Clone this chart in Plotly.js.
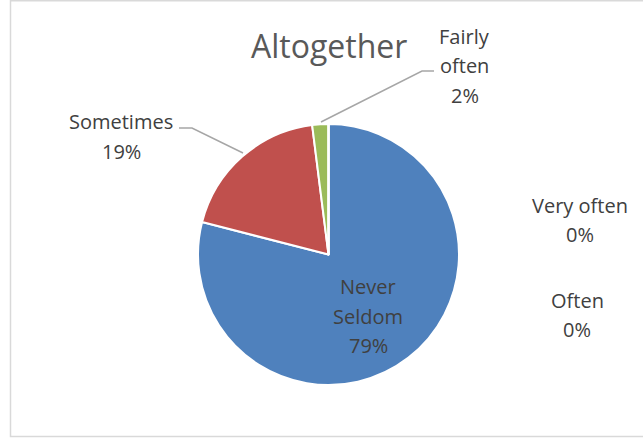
<!DOCTYPE html>
<html>
<head>
<meta charset="utf-8">
<script src="https://cdn.plot.ly/plotly-3.0.1.min.js"></script>
<style>html,body{margin:0;padding:0;background:#fff;}#chart{width:643px;height:439px;}</style>
</head>
<body>
<div id="chart"></div>
<script>
// ---- data ----
const categories = ["Never Seldom", "Sometimes", "Fairly often", "Very often", "Often"];
const values = [79, 19, 2, 0, 0];
const labelLines = [["Never", "Seldom"], ["Sometimes"], ["Fairly", "often"], ["Very often"], ["Often"]];
const colors = ["#4F81BD", "#C0504D", "#9BBB59", "#8064A2", "#4BACC6"];
const chartTitle = "Altogether";

// ---- layout helpers ----
const W = 643, H = 439;
const px = x => x / W;
const py = y => 1 - y / H;
const LINE = 29.5;

const total = values.reduce((a, b) => a + b, 0);
const pctText = values.map(v => Math.round(v / total * 100) + "%");

// label block centre positions (pixels) for each category
const labelPos = [[368, 316], [121, 136.5], [465, 65.5], [580, 220], [577, 315]];

const annotations = [];
categories.forEach((c, i) => {
  const lines = labelLines[i].concat([pctText[i]]);
  const n = lines.length;
  lines.forEach((t, k) => {
    annotations.push({
      xref: "paper", yref: "paper",
      x: px(labelPos[i][0]), y: py(labelPos[i][1] + (k - (n - 1) / 2) * LINE),
      xanchor: "center", yanchor: "middle",
      text: t, showarrow: false, align: "center",
      font: {family: "Open Sans, sans-serif", size: 20, color: "#404040"}
    });
  });
});
annotations.push({
  xref: "paper", yref: "paper", x: px(329), y: py(45),
  xanchor: "center", yanchor: "middle", text: chartTitle, showarrow: false,
  font: {family: "Open Sans, sans-serif", size: 32, color: "#595959"}
});

const lineStyle = {color: "#A6A6A6", width: 1.5};
const shapes = [
  {type: "rect", xref: "paper", yref: "paper", x0: px(10.5), x1: px(660), y0: py(436.5), y1: py(0.8),
   line: {color: "#D9D9D9", width: 1.5}, fillcolor: "rgba(0,0,0,0)", layer: "below"},
  {type: "path", xref: "paper", yref: "paper",
   path: `M ${px(179)} ${py(128)} L ${px(192)} ${py(128)} L ${px(243)} ${py(153)}`, line: lineStyle},
  {type: "path", xref: "paper", yref: "paper",
   path: `M ${px(321)} ${py(122)} L ${px(422)} ${py(71)} L ${px(434)} ${py(71)}`, line: lineStyle}
];

const trace = {
  type: "pie",
  labels: categories,
  values: values,
  sort: false,
  direction: "clockwise",
  rotation: 0,
  textinfo: "none",
  hoverinfo: "label+percent",
  marker: {colors: colors, line: {color: "#FFFFFF", width: 2}},
  domain: {x: [px(198), px(459)], y: [py(385), py(124)]}
};

const layout = {
  width: W, height: H,
  margin: {l: 0, r: 0, t: 0, b: 0},
  paper_bgcolor: "#FFFFFF",
  showlegend: false,
  annotations: annotations,
  shapes: shapes
};

Plotly.newPlot("chart", [trace], layout, {displayModeBar: false, staticPlot: true});
</script>
</body>
</html>
